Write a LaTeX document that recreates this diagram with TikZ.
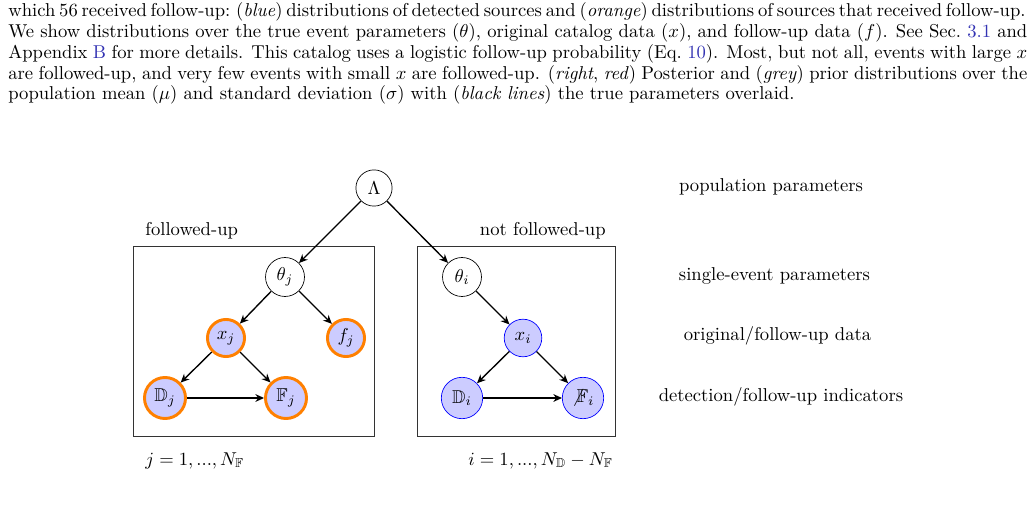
\RequirePackage{fix-cm}
\documentclass[tikz,border=0pt]{standalone}
\usepackage{amsmath}
\usepackage{amssymb}
\usepackage{tikz}
\usetikzlibrary{arrows.meta}
\definecolor{fuorange}{RGB}{255,128,0}
\definecolor{fufill}{RGB}{204,204,255}
\definecolor{linkblue}{RGB}{51,51,179}

\tikzset{
  every node/.style={font=\fontsize{10.8pt}{13pt}\selectfont},
  hyper/.style={circle,draw,thin,minimum size=21pt,inner sep=0pt},
  latent/.style={circle,draw,thin,minimum size=22.6pt,inner sep=0pt},
  seen/.style={circle,draw=fuorange,line width=1.7pt,fill=fufill,inner sep=0pt},
  unseen/.style={circle,draw=blue,thin,fill=fufill,inner sep=0pt},
  edge/.style={-{Stealth[length=5pt,width=4.5pt]},thick},
  plate/.style={draw=black!80,thin},
  capline/.style={anchor=base west,inner sep=0pt},
  tag/.style={anchor=base,inner sep=0pt},
}

\begin{document}
\begin{tikzpicture}[x=0.58pt,y=-0.58pt]
      \useasboundingbox (0,0) rectangle (1034,511);
      % caption text
      \node[capline] (cap1) at (8,17) {\spaceskip=.3em plus .2em minus .2em\xspaceskip=.4em plus .2em minus .2em\makebox[590pt][s]{which 56 received follow-up: (\textit{blue}) distributions of detected sources and (\textit{orange}) distributions of sources that received follow-up.}};
      \node[capline] (cap2) at (8,37.7) {\makebox[591pt][s]{We show distributions over the true event parameters ($\theta$), original catalog data ($x$), and follow-up data ($f$). See Sec.~\textcolor{linkblue}{3.1} and}};
      \node[capline] (cap3) at (8,58.4) {\makebox[591pt][s]{Appendix \textcolor{linkblue}{B} for more details. This catalog uses a logistic follow-up probability (Eq.~\textcolor{linkblue}{10}). Most, but not all, events with large $x$}};
      \node[capline] (cap4) at (8,79.1) {\makebox[591pt][s]{are followed-up, and very few events with small $x$ are followed-up. (\textit{right}, \textit{red}) Posterior and (\textit{grey}) prior distributions over the}};
      \node[capline] (cap5) at (8,99.8) {population mean ($\mu$) and standard deviation ($\sigma$) with (\textit{black lines}) the true parameters overlaid.};
      % plates
      \draw[plate] (133,246) rectangle (374,436);
      \draw[plate] (417,246) rectangle (615,436);
      \node[capline] (funame) at (145,236) {followed-up};
      \node[capline,anchor=base east] (nfuname) at (606,236) {not followed-up};
      \node[capline] (fuidx) at (145,465) {$j = 1, ..., N_{\mathbb{F}}$};
      \node[capline,anchor=base east] (nfuidx) at (613,465) {$i = 1, ..., N_{\mathbb{D}} - N_{\mathbb{F}}$};
      % nodes
      \node[hyper] (lam) at (374,188) {$\Lambda$};
      \node[latent] (thj) at (285,277) {$\theta_j$};
      \node[seen,minimum size=21.5pt] (xj) at (226,338) {$x_j$};
      \node[seen,minimum size=21.5pt] (fj) at (346,338) {$f_j$};
      \node[seen,minimum size=23.8pt] (dj) at (165,398) {$\mathbb{D}_j$};
      \node[seen,minimum size=23.8pt] (ffj) at (286,398) {$\mathbb{F}_j$};
      \node[latent] (thi) at (462,277) {$\theta_i$};
      \node[unseen,minimum size=21.8pt] (xi) at (523,338) {$x_i$};
      \node[unseen,minimum size=24pt] (di) at (462,398) {$\mathbb{D}_i$};
      \node[unseen,minimum size=24pt] (ffi) at (583,398) {$\not\mathbb{F}_i$};
      % edges
      \draw[edge] (lam) -- (thj);
      \draw[edge] (lam) -- (thi);
      \draw[edge] (thj) -- (xj);
      \draw[edge] (thj) -- (fj);
      \draw[edge] (xj) -- (dj);
      \draw[edge] (xj) -- (ffj);
      \draw[edge] (dj) -- (ffj);
      \draw[edge] (thi) -- (xi);
      \draw[edge] (xi) -- (di);
      \draw[edge] (xi) -- (ffi);
      \draw[edge] (di) -- (ffi);
      % level labels
      \node[tag] (lvl1) at (771,192) {population parameters};
      \node[tag] (lvl2) at (774.5,281) {single-event parameters};
      \node[tag] (lvl3) at (777.5,341) {original/follow-up data};
      \node[tag] (lvl4) at (781,402) {detection/follow-up indicators};
    \end{tikzpicture}
\end{document}
